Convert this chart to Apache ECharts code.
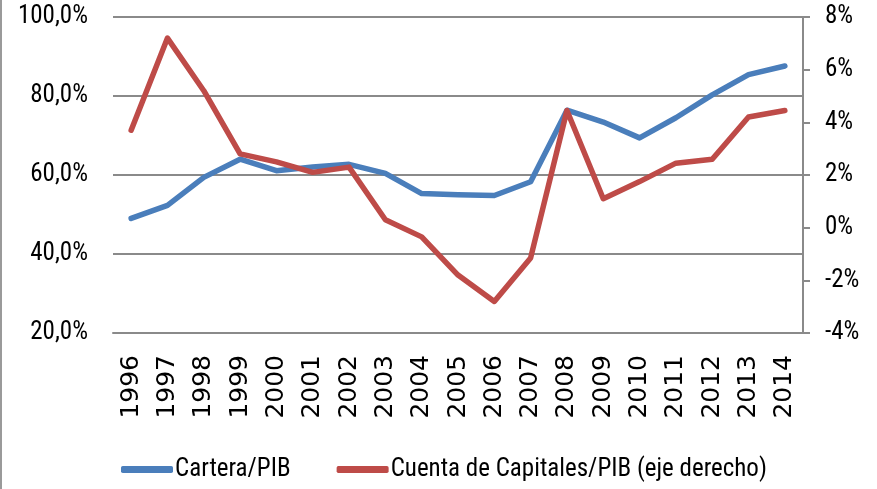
<!DOCTYPE html>
<html>
<head>
<meta charset="utf-8">
<script src="https://cdn.jsdelivr.net/npm/echarts@6/dist/echarts.min.js"></script>
<style>
html,body{margin:0;padding:0;background:#fff;}
#chart{width:877px;height:489px;}
</style>
</head>
<body>
<div id="chart"></div>
<script>
// datos
var years = ['1996','1997','1998','1999','2000','2001','2002','2003','2004','2005',
	'2006','2007','2008','2009','2010','2011','2012','2013','2014'];
var cartera = [49.0, 52.3, 59.4, 64.0, 61.1, 62.0, 62.7, 60.4, 55.3, 55.0,
	54.8, 58.3, 76.4, 73.4, 69.4, 74.5, 80.3, 85.4, 87.6];
var cuentaCap = [3.7, 7.2, 5.2, 2.8, 2.5, 2.1, 2.3, 0.3, -0.35, -1.8,
	-2.8, -1.15, 4.45, 1.1, 1.75, 2.45, 2.6, 4.2, 4.45];
var leftTicks = {min: 20, max: 100, step: 20};
var rightTicks = {min: -4, max: 8, step: 2};

var grisEje = '#8a8a8a';
var narrow = '"Roboto Condensed", "Liberation Sans", sans-serif';

var myChart = echarts.init(document.getElementById('chart'));
var option = {
	animation: false,
	backgroundColor: '#fff',
	grid: {left: 113, right: 74, top: 17, bottom: 156},
	legend: {
		bottom: 2,
		left: 116,
		itemWidth: 52,
		itemHeight: 7,
		itemGap: 46,
		icon: 'roundRect',
		textStyle: {fontFamily: narrow, fontSize: 25, color: '#000', padding: [0, 0, 0, -3]},
		data: ['Cartera/PIB', 'Cuenta de Capitales/PIB (eje derecho)']
	},
	graphic: [{
		type: 'line',
		shape: {x1: 1, y1: 0, x2: 1, y2: 489},
		style: {stroke: '#9a9a9a', lineWidth: 2}
	}],
	xAxis: {
		type: 'category',
		data: years,
		boundaryGap: true,
		axisLine: {onZero: false, lineStyle: {color: grisEje, width: 2}},
		axisTick: {show: false},
		axisLabel: {
			rotate: 90,
			margin: 22,
			fontFamily: 'DejaVu Sans',
			fontSize: 25,
			color: '#000'
		}
	},
	yAxis: [{
		type: 'value',
		min: leftTicks.min,
		max: leftTicks.max,
		interval: leftTicks.step,
		axisLine: {show: false},
		axisTick: {show: false},
		splitLine: {lineStyle: {color: grisEje, width: 2}},
		axisLabel: {
			margin: 25,
			fontFamily: narrow,
			fontSize: 25,
			color: '#000',
			formatter: function (v) { return v.toFixed(1).replace('.', ',') + '%'; }
		}
	}, {
		type: 'value',
		position: 'right',
		min: rightTicks.min,
		max: rightTicks.max,
		interval: rightTicks.step,
		axisLine: {show: true, onZero: false, lineStyle: {color: grisEje, width: 2}},
		axisTick: {show: true, length: 7, lineStyle: {color: grisEje, width: 2}},
		splitLine: {show: false},
		axisLabel: {
			margin: 22,
			fontFamily: narrow,
			fontSize: 25,
			color: '#000',
			formatter: function (v) { return v + '%'; }
		}
	}],
	series: [{
		name: 'Cartera/PIB',
		type: 'line',
		yAxisIndex: 0,
		data: cartera,
		symbol: 'none',
		lineStyle: {color: '#4a7ebb', width: 5.5, cap: 'round', join: 'round'},
		itemStyle: {color: '#4a7ebb'}
	}, {
		name: 'Cuenta de Capitales/PIB (eje derecho)',
		type: 'line',
		yAxisIndex: 1,
		data: cuentaCap,
		symbol: 'none',
		lineStyle: {color: '#be4b48', width: 5.5, cap: 'round', join: 'round'},
		itemStyle: {color: '#be4b48'}
	}]
};
option && myChart.setOption(option);
</script>
</body>
</html>
